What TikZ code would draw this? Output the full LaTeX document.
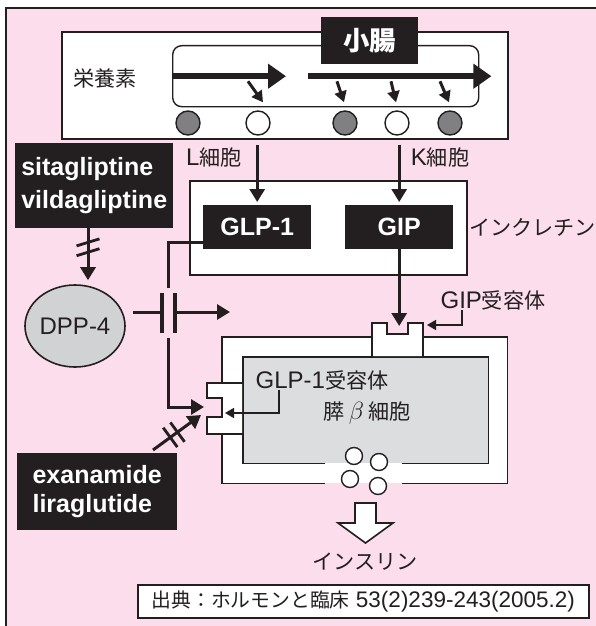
\documentclass[tikz,border=0pt]{standalone}
\usepackage{fontspec}
\setmainfont{Liberation Sans}
\newfontfamily\jp[Scale=0.88]{Noto Sans CJK JP}
\usepackage{tikz}
\usetikzlibrary{arrows.meta,calc,shapes.geometric}

\definecolor{pinkbg}{RGB}{251,221,235}
\definecolor{inkblack}{RGB}{35,31,32}
\definecolor{cellgray}{RGB}{220,221,223}
\definecolor{dppgray}{RGB}{209,210,212}
\definecolor{dotgray}{RGB}{128,128,130}

\tikzset{
  box/.style={draw=inkblack, line width=1.6pt, fill=white, inner sep=0pt, anchor=north west},
  blk/.style={fill=inkblack, text=white, inner sep=0pt, anchor=north west,
    font=\bfseries\fontsize{25}{33}\selectfont},
  lbl/.style={text=inkblack, inner sep=0pt, font=\fontsize{24}{28}\selectfont},
  flow/.style={line width=6.5pt, -{Triangle[length=18pt,width=24pt]}},
  drip/.style={line width=3pt, -{Triangle[length=11pt,width=12pt]}},
  conn/.style={line width=3pt, -{Triangle[length=13pt,width=15pt]}},
  tag/.style={line width=1.6pt, -{Triangle[length=9pt,width=10pt]}},
  cutbar/.style={line width=2.8pt},
  dot/.style={circle, draw=inkblack, line width=1.4pt, inner sep=0pt},
}

% two short bars across a connector: from, to, position, angle
\newcommand{\cutmark}[4]{%
  \draw[cutbar] ($(#1)!#3!(#2)!12pt!#4:(#2)$) -- ($(#1)!#3!(#2)!-12pt!#4:(#2)$);}

\begin{document}
\begin{tikzpicture}[x=1pt, y=-1pt, color=inkblack]
  \useasboundingbox (0,0) rectangle (596,626);
  % page frame
  \fill[pinkbg] (6,8) rectangle (596,626);
  \draw[line width=2pt] (6,626) -- (6,8) -- (596,8);

  % small intestine
  \node[box, minimum width=446pt, minimum height=107pt] (gut) at (61,31) {};
  \node[draw=inkblack, line width=1.4pt, rounded corners=9pt, inner sep=0pt,
    minimum width=306pt, minimum height=61pt, anchor=north west] (lumen) at (172,45) {};
  \node[blk, minimum width=97pt, minimum height=47pt] (gutlbl) at (321,17)
    {\jp\fontsize{30}{30}\selectfont 小腸};
  \node[lbl] (nutr) at (105,78) {\jp 栄養素};
  \draw[flow] (lumen.west) -- ([xshift=114pt]lumen.west);
  \draw[flow] ([xshift=136pt]lumen.west) -- ([xshift=12pt]lumen.east);

  \foreach \x/\c [count=\i] in {188/dotgray, 258/white, 345/dotgray, 397/white, 450/dotgray}
    \node[dot, fill=\c, minimum size=24pt] (c\i) at (\x,123) {};
  \draw[drip] ([shift={(-10,-29)}]c2.north) -- ([shift={(5,-8)}]c2.north);
  \foreach \i/\a in {3/-8, 4/-6, 5/-10}
    \draw[drip] ([shift={(\a,-29)}]c\i.north) -- ([shift={(-1,-8)}]c\i.north);

  \node[lbl] (lcell) at (214,157) {L{\jp 細胞}};
  \node[lbl] (kcell) at (440,157) {K{\jp 細胞}};

  % incretins
  \node[box, minimum width=277pt, minimum height=94pt] (incr) at (189,180) {};
  \node[blk, minimum width=108pt, minimum height=44pt] (glp) at (203,205) {GLP-1};
  \node[blk, minimum width=108pt, minimum height=44pt] (gip) at (345,205) {GIP};
  \node[lbl, anchor=west] (incrlbl) at (469,227) {\jp インクレチン};
  \draw[conn] ([yshift=-5pt]gut.south -| glp.north) -- ([yshift=3pt]glp.north);
  \draw[conn] ([yshift=-5pt]gut.south -| gip.north) -- ([yshift=3pt]gip.north);

  % beta cell
  \node[fill=white, inner sep=0pt, minimum width=285pt, minimum height=146pt,
    anchor=north west] (cell) at (222,337) {};
  \draw[line width=1.6pt] ([xshift=103pt]cell.south west) -- (cell.south west)
    -- (cell.north west) -- (cell.north east) -- (cell.south east)
    -- ([xshift=-105pt]cell.south east);
  \node[fill=cellgray, inner sep=0pt, minimum width=245pt, minimum height=106pt,
    anchor=north west] (beta) at (243,357) {};
  \draw[line width=1.6pt] ([xshift=82pt]beta.south west) -- (beta.south west)
    -- (beta.north west) -- (beta.north east) -- (beta.south east)
    -- ([xshift=-86pt]beta.south east);

  % receptors
  \fill[white] (372,323) -- (387,323) -- (387,334) -- (408,334) -- (408,323)
    -- (423,323) -- (423,356) -- (372,356) -- cycle;
  \draw[line width=1.6pt] (372,357) -- (372,323) -- (387,323) -- (387,334)
    -- (408,334) -- (408,323) -- (423,323) -- (423,357);
  \fill[white] (242,383) -- (207,383) -- (207,398) -- (222,398) -- (222,417)
    -- (207,417) -- (207,434) -- (242,434) -- cycle;
  \draw[line width=1.6pt] (243,383) -- (207,383) -- (207,398) -- (222,398)
    -- (222,417) -- (207,417) -- (207,434) -- (243,434);
  \coordinate (gipr) at (423,325);
  \coordinate (glpn) at (222,413);
  \coordinate (glpr) at (204,407);

  \draw[conn] (gip.south) -- ([yshift=-1pt]gip.south |- gipr);
  \node[lbl] (giprlbl) at (493,300) {GIP{\jp 受容体}};
  \draw[tag] ([xshift=-31pt]giprlbl.south) |- ([xshift=4pt]gipr);
  \node[lbl] (glprlbl) at (322,380) {GLP-1{\jp 受容体}};
  \draw[tag] ([xshift=-43pt]glprlbl.south) |- ([xshift=3pt]glpn);
  \node[lbl] (betalbl) at (367,413) {{\jp 膵}\,$\beta$\,{\jp 細胞}};

  % insulin granules
  \foreach \x/\y [count=\i] in {354/456, 379/462, 350/479, 378/486}
    \node[dot, fill=white, minimum size=17pt] (g\i) at (\x,\y) {};
  \draw[line width=1.6pt, fill=white] (355,503) -- (376,503) -- (376,523) -- (393,523)
    -- (365.5,543) -- (338,523) -- (355,523) -- cycle;
  \node[lbl] (ins) at (365,562) {\jp インスリン};

  % DPP-4 and inhibitors
  \node[blk, minimum width=158pt, minimum height=85pt, align=left] (dppi) at (15,143)
    {sitagliptine\\vildagliptine};
  \node[lbl, ellipse, draw=inkblack, line width=1.6pt, fill=dppgray,
    minimum width=100pt, minimum height=82pt] (dpp) at (75,326) {DPP-4};
  \coordinate (sa) at ([xshift=13pt]dpp.north |- dppi.south);
  \coordinate (sb) at ([shift={(13,-4)}]dpp.north);
  \draw[conn] (sa) -- (sb);
  \cutmark{sa}{sb}{0.27}{107}
  \cutmark{sa}{sb}{0.46}{107}

  \coordinate (k) at (168,312);
  \draw[line width=3pt] ([xshift=7pt]dpp.east |- k) -- ([xshift=-6pt]k);
  \draw[conn] ([xshift=7pt]k) -- ([xshift=62pt]k);
  \draw[line width=4pt] ([shift={(-6,-19)}]k) -- ([shift={(-6,21)}]k);
  \draw[line width=4pt] ([shift={(7,-19)}]k) -- ([shift={(7,21)}]k);
  \draw[line width=3pt] ([yshift=-15pt]glp.west) -| ([yshift=24pt]k);
  \draw[conn] ([yshift=-26pt]k) |- (glpr);

  \node[blk, minimum width=160pt, minimum height=77pt, align=left,
    font=\bfseries\fontsize{25}{29}\selectfont] (glpa) at (17,453) {exanamide\\liraglutide};
  \coordinate (ea) at ([shift={(136,-3)}]glpa.north west);
  \coordinate (eb) at (201,415);
  \draw[conn] (ea) -- (eb);
  \cutmark{ea}{eb}{0.36}{90}
  \cutmark{ea}{eb}{0.51}{90}

  % source
  \node[box, minimum width=451pt, minimum height=33pt, font=\fontsize{22.5}{26}\selectfont]
    (src) at (137,584) {{\jp 出典：ホルモンと臨床} 53(2)239-243(2005.2)};
\end{tikzpicture}
\end{document}
